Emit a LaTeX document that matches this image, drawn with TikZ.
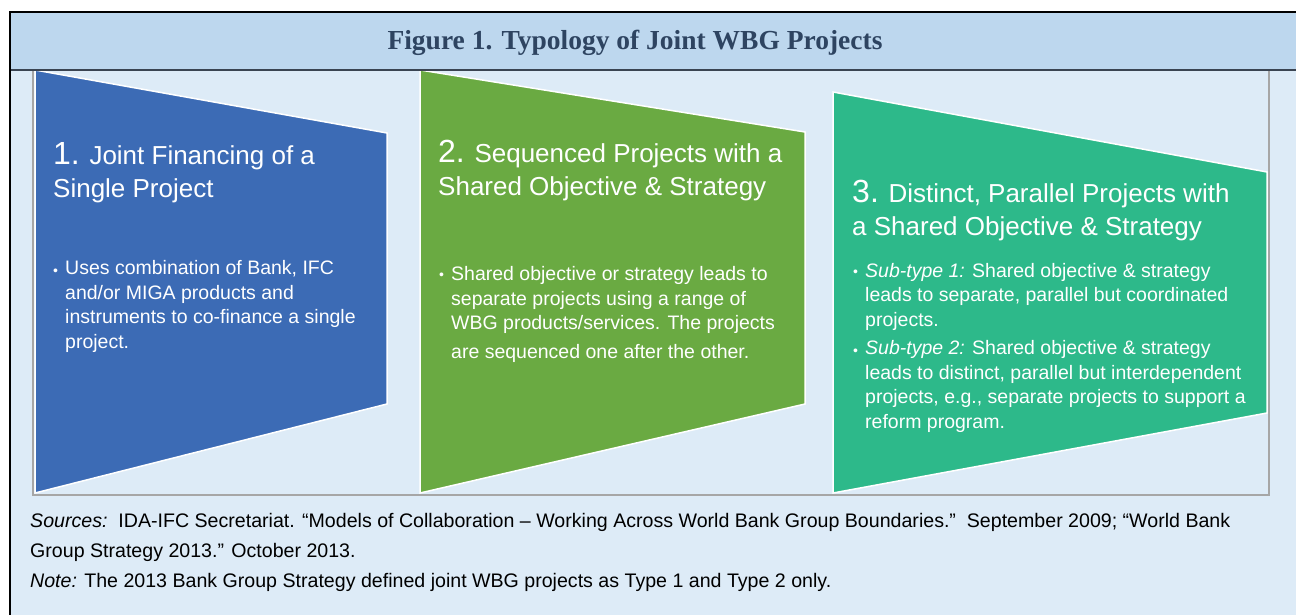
\documentclass[tikz,border=0pt]{standalone}
\usepackage{fontspec}
\setmainfont{Liberation Sans}
\newfontfamily\titleserif{Liberation Serif}
\definecolor{titlebg}{HTML}{BDD7EE}
\definecolor{bodybg}{HTML}{DDEBF7}
\definecolor{titletext}{HTML}{2E4461}
\definecolor{titleline}{HTML}{3A4452}
\definecolor{boxgray}{HTML}{A6A6A6}
\definecolor{typeone}{HTML}{3C6BB5}
\definecolor{typetwo}{HTML}{6AAA42}
\definecolor{typethree}{HTML}{2DB98A}
\tikzset{
  head/.style={anchor=base west, inner sep=0pt, align=left, text=white, font=\fontsize{26}{33}\selectfont},
  bul/.style={anchor=base west, inner sep=0pt, align=left, text=white, font=\fontsize{19.5}{24.5}\selectfont},
  dot/.style={anchor=base west, inner sep=0pt, text=white, font=\fontsize{14}{14}\selectfont},
  src/.style={anchor=base west, inner sep=0pt, align=left, font=\fontsize{19.6}{30}\selectfont},
  panel/.style={draw=white, line width=1.5pt}
}
\newcommand{\bignum}[1]{{\fontsize{32}{33}\selectfont #1}}

\begin{document}
\begin{tikzpicture}[x=1pt,y=-1pt]
\useasboundingbox (0,0) rectangle (1296,615);
\fill[white] (0,0) rectangle (1296,615);
\fill[bodybg] (9,12) rectangle (1296,615);
\fill[titlebg] (9,12) rectangle (1296,70);
\draw[boxgray, line width=1.2pt] (33,70) -- (33,495) -- (1269,495) -- (1269,70);

\filldraw[panel, fill=typeone] (35,70) -- (387,133) -- (387,404) -- (35,493) -- cycle;
\filldraw[panel, fill=typetwo] (420,70) -- (805,132) -- (805,404) -- (420,493) -- cycle;
\filldraw[panel, fill=typethree] (833,92) -- (1267,172) -- (1267,413) -- (833,493) -- cycle;

\draw[titleline, line width=1.2pt] (9,70) -- (1296,70);
\draw[black, line width=1.6pt] (1296,12) -- (9.8,12) -- (9.8,615);

\node[anchor=base, inner sep=0pt, text=titletext, font=\titleserif\bfseries\fontsize{27.5}{27.5}\selectfont] (ttl) at (635,50) {Figure 1. Typology of Joint WBG Projects};

\node[head] (h1) at (53,197) {\bignum{1.} Joint Financing of a\\Single Project};
\node[dot] (d1) at (53,275) {•};
\node[bul] (b1) at (65,348) {Uses combination of Bank, IFC\\and/or MIGA products and\\instruments to co-finance a single\\project.};

\node[head] (h2) at (438,195) {\bignum{2.} Sequenced Projects with a\\Shared Objective \& Strategy};
\node[dot] (d2) at (439,279) {•};
\node[bul] (b2) at (451,358) {Shared objective or strategy leads to\\separate projects using a range of\\WBG products/services. The projects\\[4pt]are sequenced one after the other.};

\node[head] (h3) at (852,235) {\bignum{3.} Distinct, Parallel Projects with\\a Shared Objective \& Strategy};
\node[dot] (d3a) at (853,276) {•};
\node[bul] (b3a) at (865,326) {\textit{Sub-type 1:} Shared objective \& strategy\\leads to separate, parallel but coordinated\\projects.};
\node[dot] (d3b) at (853,355) {•};
\node[bul] (b3b) at (865,428) {\textit{Sub-type 2:} Shared objective \& strategy\\leads to distinct, parallel but interdependent\\projects, e.g., separate projects to support a\\reform program.};

\node[src] (note) at (30,587) {\textit{Sources:}\ \ IDA-IFC Secretariat. “Models of Collaboration – Working Across World Bank Group Boundaries.”\ \ September 2009; “World Bank\\Group Strategy 2013.” October 2013.\\\textit{Note:} The 2013 Bank Group Strategy defined joint WBG projects as Type 1 and Type 2 only.};
\end{tikzpicture}
\end{document}
